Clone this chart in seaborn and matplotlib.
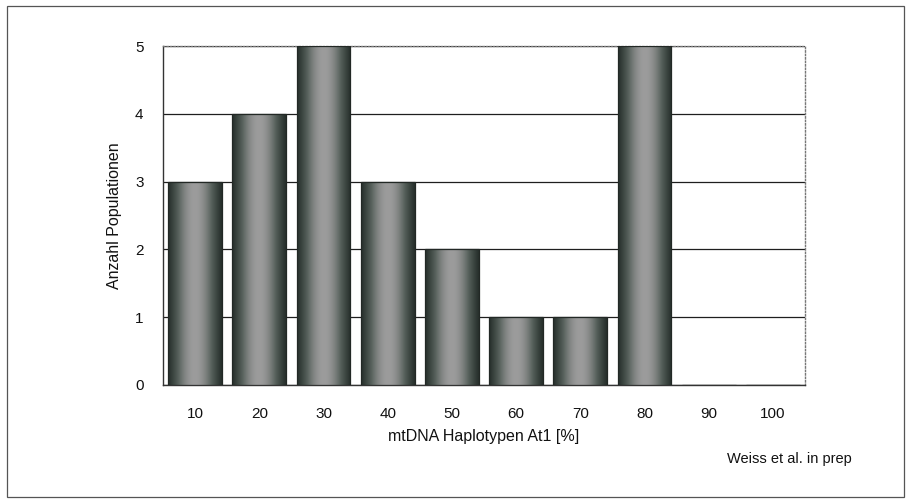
import numpy as np
import matplotlib
matplotlib.use("Agg")
import matplotlib.pyplot as plt
import seaborn as sns
from matplotlib.patches import Rectangle
from matplotlib.colors import LinearSegmentedColormap

# data
categories = ["10", "20", "30", "40", "50", "60", "70", "80", "90", "100"]
counts = [3, 4, 5, 3, 2, 1, 1, 5, 0, 0]
y_ticks = [0, 1, 2, 3, 4, 5]

sns.set_style("white")
plt.rcParams["font.family"] = ["Liberation Sans", "DejaVu Sans"]

fig = plt.figure(figsize=(9.06, 5.0), dpi=100)
ax = fig.add_axes([163 / 906, 1 - 385 / 500, (805 - 163) / 906, (385 - 46) / 500])

sns.barplot(x=categories, y=counts, color="#505853", width=0.84,
            edgecolor="#222825", linewidth=0.9, ax=ax, zorder=3)

# shaded (cylinder-like) fill for each bar, clipped to the bar
bar_cmap = LinearSegmentedColormap.from_list("bar", ["#27302c", "#56605b", "#9c9c9c"])
prof = np.linspace(-1, 1, 200)
shade = np.cos(prof * np.pi / 2) ** 1.2
grad = np.tile(shade, (2, 1))
for p in ax.patches:
    if p.get_height() <= 0:
        continue
    x0, y0 = p.get_x(), p.get_y()
    w, h = p.get_width(), p.get_height()
    im = ax.imshow(grad, cmap=bar_cmap, vmin=0, vmax=1, aspect="auto",
                   extent=[x0, x0 + w, y0, y0 + h], zorder=3.5,
                   interpolation="bilinear")
    im.set_clip_path(p)
    p.set_facecolor("none")
    p.set_zorder(4)

ax.set_xlim(-0.5, len(categories) - 0.5)
ax.set_ylim(0, 5)
ax.set_yticks(y_ticks)
ax.yaxis.grid(True, color="#1e1e1e", linewidth=0.9, zorder=1)
ax.set_axisbelow(True)

# spines: solid left/bottom, dotted grey top/right
for s in ["left", "bottom"]:
    ax.spines[s].set_color("#333333")
    ax.spines[s].set_linewidth(1.0)
for s in ["top", "right"]:
    ax.spines[s].set_visible(True)
    ax.spines[s].set_color("#777777")
    ax.spines[s].set_linestyle((0, (1, 1.5)))
    ax.spines[s].set_linewidth(1.0)

# x tick marks sit between the bars, labels centred under them
ax.set_xticks(np.arange(-0.5, len(categories)), minor=True)
ax.tick_params(axis="x", which="minor", direction="out", length=5, width=0.9, color="#333333")
ax.tick_params(axis="x", which="major", length=0, pad=16, labelsize=11, labelcolor="#111111")
ax.tick_params(axis="y", which="major", direction="inout", length=10, width=0.9,
               color="#333333", labelsize=11, pad=9, labelcolor="#111111")

ax.set_xlabel("mtDNA Haplotypen At1 [%]", fontsize=11.5, color="#111111", va="center")
ax.xaxis.set_label_coords(0.5, (385 - 437) / 339)
ax.set_ylabel("Anzahl Populationen", fontsize=11.5, color="#111111", va="center")
ax.yaxis.set_label_coords((115 - 163) / 642, 0.5)

fig.text(789 / 906, 1 - 459 / 500, "Weiss et al. in prep", fontsize=10.5,
         ha="center", va="center", color="#111111")

# outer frame around the whole chart
fig.patches.append(Rectangle((7 / 906, 1 - 497 / 500), (904 - 7) / 906, (497 - 6) / 500,
                             transform=fig.transFigure, fill=False,
                             edgecolor="#555555", linewidth=0.9))

fig.savefig("out.png", dpi=100)
